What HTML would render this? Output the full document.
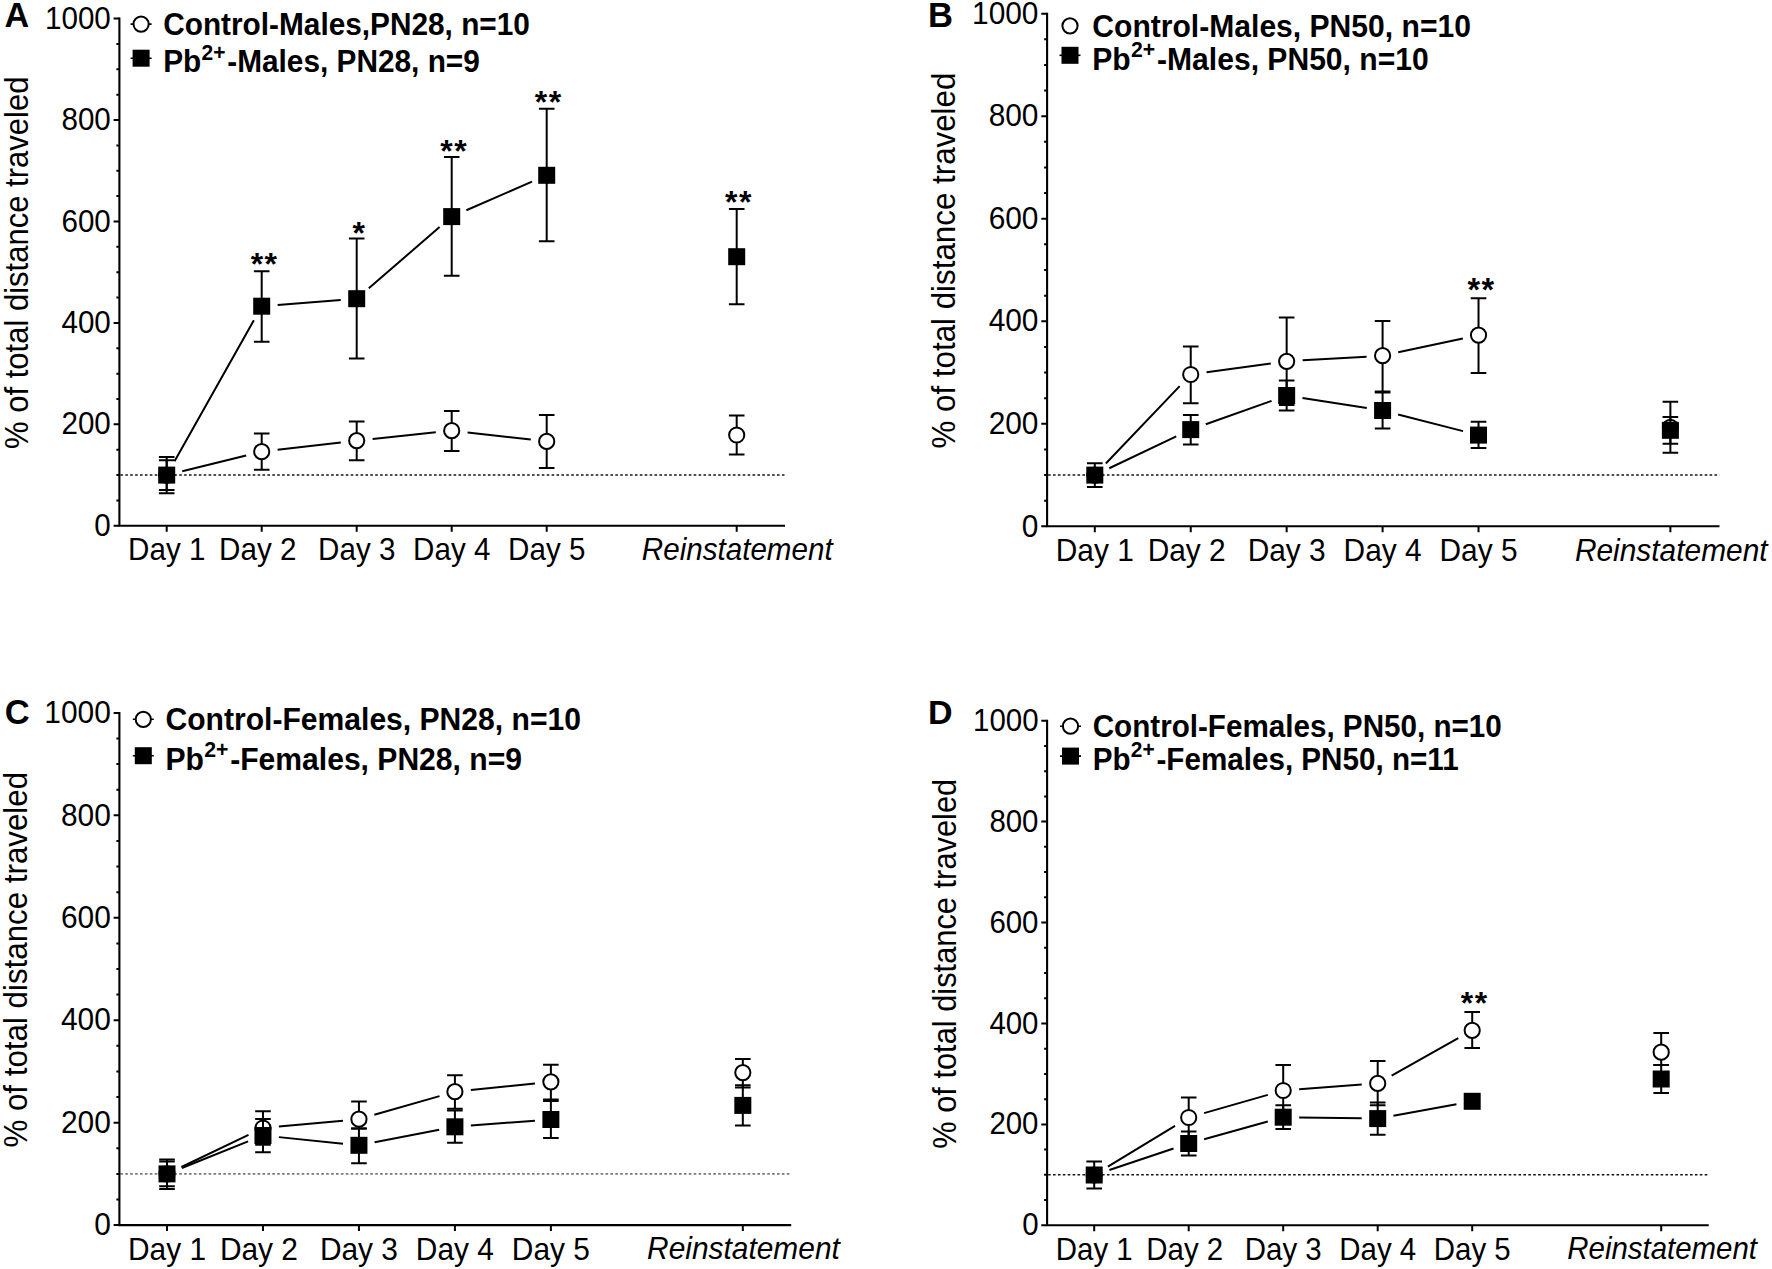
<!DOCTYPE html>
<html><head><meta charset="utf-8"><title>Figure</title>
<style>
html,body{margin:0;padding:0;background:#fff;}
svg{display:block;}
text{font-family:"Liberation Sans", Arial, Helvetica, sans-serif;fill:#000;}
</style></head>
<body>
<svg width="1772" height="1269" viewBox="0 0 1772 1269">
<rect width="1772" height="1269" fill="#fff"/>
<g><line x1="120.4" y1="475.08" x2="785" y2="475.08" stroke="#151515" stroke-width="1.5" stroke-dasharray="2.6 2.3"/>
<path d="M119.4 17.6V525.8H785" fill="none" stroke="#000" stroke-width="2.1"/>
<path d="M119.4 525.8h-5.8 M119.4 500.44h-3.0 M119.4 475.08h-3.0 M119.4 449.72h-3.0 M119.4 424.36h-5.8 M119.4 399h-3.0 M119.4 373.64h-3.0 M119.4 348.28h-3.0 M119.4 322.92h-5.8 M119.4 297.56h-3.0 M119.4 272.2h-3.0 M119.4 246.84h-3.0 M119.4 221.48h-5.8 M119.4 196.12h-3.0 M119.4 170.76h-3.0 M119.4 145.4h-3.0 M119.4 120.04h-5.8 M119.4 94.68h-3.0 M119.4 69.32h-3.0 M119.4 43.96h-3.0 M119.4 18.6h-5.8 M166.7 525.8v6 M261.7 525.8v6 M356.7 525.8v6 M451.7 525.8v6 M546.7 525.8v6 M736.7 525.8v6" fill="none" stroke="#000" stroke-width="2"/>
<text transform="translate(110.8 535.9) scale(1 1.04)" text-anchor="end" font-size="29.6">0</text>
<text transform="translate(110.8 434.46) scale(1 1.04)" text-anchor="end" font-size="29.6">200</text>
<text transform="translate(110.8 333.02) scale(1 1.04)" text-anchor="end" font-size="29.6">400</text>
<text transform="translate(110.8 231.58) scale(1 1.04)" text-anchor="end" font-size="29.6">600</text>
<text transform="translate(110.8 130.14) scale(1 1.04)" text-anchor="end" font-size="29.6">800</text>
<text transform="translate(110.8 28.7) scale(1 1.04)" text-anchor="end" font-size="29.6">1000</text>
<text transform="translate(166.7 560.2) scale(1 1.04)" text-anchor="middle" font-size="29.6">Day 1</text>
<text transform="translate(257.7 560.2) scale(1 1.04)" text-anchor="middle" font-size="29.6">Day 2</text>
<text transform="translate(356.7 560.2) scale(1 1.04)" text-anchor="middle" font-size="29.6">Day 3</text>
<text transform="translate(451.7 560.2) scale(1 1.04)" text-anchor="middle" font-size="29.6">Day 4</text>
<text transform="translate(546.7 560.2) scale(1 1.04)" text-anchor="middle" font-size="29.6">Day 5</text>
<text transform="translate(737.25 560) scale(1 1.04)" text-anchor="middle" font-size="29.6" font-style="italic">Reinstatement</text>
<text transform="translate(27.6 449) rotate(-90)" font-size="32.8" textLength="372.4" lengthAdjust="spacingAndGlyphs">% of total distance traveled</text>
<text transform="translate(4.5 26.8) scale(1 1.0)" font-size="34.2" font-weight="bold">A</text>
<path d="M130.6 24.1h21M130.6 58.2h21" stroke="#000" stroke-width="1.6"/>
<circle cx="141.1" cy="24.1" r="7.6" fill="#fff" stroke="#000" stroke-width="2.0"/>
<rect x="132.6" y="49.7" width="17" height="17" fill="#000"/>
<text transform="translate(163.2 35.2) scale(1 1.04)" font-size="29.8" font-weight="bold">Control-Males,PN28, n=10</text>
<text transform="translate(163.2 72.2) scale(1 1.04)" font-size="29.8" font-weight="bold">Pb<tspan font-size="21" dy="-12.2" dx="0.3">2+</tspan><tspan dy="12.2" dx="1.8">-Males, PN28, n=9</tspan></text>
<path d="M166.7 457V493.2M158.9 457h15.6M158.9 493.2h15.6 M261.7 433.6V469.8M253.9 433.6h15.6M253.9 469.8h15.6 M356.7 421.4V460.3M348.9 421.4h15.6M348.9 460.3h15.6 M451.7 410.9V451M443.9 410.9h15.6M443.9 451h15.6 M546.7 415V467.9M538.9 415h15.6M538.9 467.9h15.6 M736.7 415.5V454.5M728.9 415.5h15.6M728.9 454.5h15.6" fill="none" stroke="#000" stroke-width="2.0"/>
<path d="M182.24 471.27L246.16 455.53 M277.59 449.84L340.81 442.46 M372.61 438.94L435.79 432.36 M467.6 432.49L530.8 439.61" fill="none" stroke="#000" stroke-width="2.0"/>
<circle cx="166.7" cy="475.1" r="7.6" fill="#fff" stroke="#000" stroke-width="2.0"/>
<circle cx="261.7" cy="451.7" r="7.6" fill="#fff" stroke="#000" stroke-width="2.0"/>
<circle cx="356.7" cy="440.6" r="7.6" fill="#fff" stroke="#000" stroke-width="2.0"/>
<circle cx="451.7" cy="430.7" r="7.6" fill="#fff" stroke="#000" stroke-width="2.0"/>
<circle cx="546.7" cy="441.4" r="7.6" fill="#fff" stroke="#000" stroke-width="2.0"/>
<circle cx="736.7" cy="435" r="7.6" fill="#fff" stroke="#000" stroke-width="2.0"/>
<path d="M166.7 460.2V490M158.9 460.2h15.6M158.9 490h15.6 M261.7 271.3V341.7M253.9 271.3h15.6M253.9 341.7h15.6 M356.7 238.5V358.5M348.9 238.5h15.6M348.9 358.5h15.6 M451.7 157V275.7M443.9 157h15.6M443.9 275.7h15.6 M546.7 108.7V241.3M538.9 108.7h15.6M538.9 241.3h15.6 M736.7 208.9V304.3M728.9 208.9h15.6M728.9 304.3h15.6" fill="none" stroke="#000" stroke-width="2.0"/>
<path d="M174.54 461.15L253.86 320.15 M277.65 304.94L340.75 299.96 M368.81 288.24L439.59 227.06 M466.37 210.22L532.03 181.68" fill="none" stroke="#000" stroke-width="2.0"/>
<rect x="158.2" y="466.6" width="17.0" height="17.0" fill="#000"/>
<rect x="253.2" y="297.7" width="17.0" height="17.0" fill="#000"/>
<rect x="348.2" y="290.2" width="17.0" height="17.0" fill="#000"/>
<rect x="443.2" y="208.1" width="17.0" height="17.0" fill="#000"/>
<rect x="538.2" y="166.8" width="17.0" height="17.0" fill="#000"/>
<rect x="728.2" y="248.2" width="17.0" height="17.0" fill="#000"/>
<text x="264.6" y="275.4" text-anchor="middle" font-size="32" font-weight="bold" letter-spacing="1.5">**</text>
<text x="359.55" y="243.8" text-anchor="middle" font-size="32" font-weight="bold" letter-spacing="1.5">*</text>
<text x="454.25" y="161.7" text-anchor="middle" font-size="32" font-weight="bold" letter-spacing="1.5">**</text>
<text x="548.65" y="113.3" text-anchor="middle" font-size="32" font-weight="bold" letter-spacing="1.5">**</text>
<text x="739.05" y="212.8" text-anchor="middle" font-size="32" font-weight="bold" letter-spacing="1.5">**</text></g>
<g><line x1="1048.1" y1="475.04" x2="1719.5" y2="475.04" stroke="#151515" stroke-width="1.5" stroke-dasharray="2.6 2.3"/>
<path d="M1047.1 12.7V526.3H1719.5" fill="none" stroke="#000" stroke-width="2.1"/>
<path d="M1047.1 526.3h-5.8 M1047.1 500.67h-3.0 M1047.1 475.04h-3.0 M1047.1 449.41h-3.0 M1047.1 423.78h-5.8 M1047.1 398.15h-3.0 M1047.1 372.52h-3.0 M1047.1 346.89h-3.0 M1047.1 321.26h-5.8 M1047.1 295.63h-3.0 M1047.1 270h-3.0 M1047.1 244.37h-3.0 M1047.1 218.74h-5.8 M1047.1 193.11h-3.0 M1047.1 167.48h-3.0 M1047.1 141.85h-3.0 M1047.1 116.22h-5.8 M1047.1 90.59h-3.0 M1047.1 64.96h-3.0 M1047.1 39.33h-3.0 M1047.1 13.7h-5.8 M1094.8 526.3v6 M1190.73 526.3v6 M1286.66 526.3v6 M1382.59 526.3v6 M1478.52 526.3v6 M1670.38 526.3v6" fill="none" stroke="#000" stroke-width="2"/>
<text transform="translate(1038.5 536.5) scale(1 1.04)" text-anchor="end" font-size="29.89">0</text>
<text transform="translate(1038.5 433.98) scale(1 1.04)" text-anchor="end" font-size="29.89">200</text>
<text transform="translate(1038.5 331.46) scale(1 1.04)" text-anchor="end" font-size="29.89">400</text>
<text transform="translate(1038.5 228.94) scale(1 1.04)" text-anchor="end" font-size="29.89">600</text>
<text transform="translate(1038.5 126.42) scale(1 1.04)" text-anchor="end" font-size="29.89">800</text>
<text transform="translate(1038.5 23.9) scale(1 1.04)" text-anchor="end" font-size="29.89">1000</text>
<text transform="translate(1094.8 560.7) scale(1 1.04)" text-anchor="middle" font-size="29.89">Day 1</text>
<text transform="translate(1186.69 560.7) scale(1 1.04)" text-anchor="middle" font-size="29.89">Day 2</text>
<text transform="translate(1286.66 560.7) scale(1 1.04)" text-anchor="middle" font-size="29.89">Day 3</text>
<text transform="translate(1382.59 560.7) scale(1 1.04)" text-anchor="middle" font-size="29.89">Day 4</text>
<text transform="translate(1478.52 560.7) scale(1 1.04)" text-anchor="middle" font-size="29.89">Day 5</text>
<text transform="translate(1671.25 560.5) scale(1 1.04)" text-anchor="middle" font-size="29.89" font-style="italic">Reinstatement</text>
<text transform="translate(954.8 448.5) rotate(-90)" font-size="33.12" textLength="375.9" lengthAdjust="spacingAndGlyphs">% of total distance traveled</text>
<text transform="translate(928.1 26.8) scale(1 1.0)" font-size="34.54" font-weight="bold">B</text>
<path d="M1059.5 55.3h21" stroke="#000" stroke-width="1.6"/>
<circle cx="1070" cy="25.8" r="7.6" fill="#fff" stroke="#000" stroke-width="2.0"/>
<rect x="1061.5" y="46.8" width="17" height="17" fill="#000"/>
<text transform="translate(1092.3 36.6) scale(1 1.04)" font-size="30.09" font-weight="bold">Control-Males, PN50, n=10</text>
<text transform="translate(1092.3 69.5) scale(1 1.04)" font-size="30.09" font-weight="bold">Pb<tspan font-size="21.21" dy="-12.32" dx="0.3">2+</tspan><tspan dy="12.32" dx="1.8">-Males, PN50, n=10</tspan></text>
<path d="M1094.8 463.2V487M1087 463.2h15.6M1087 487h15.6 M1190.73 346.5V403.2M1182.93 346.5h15.6M1182.93 403.2h15.6 M1286.66 317.5V405.1M1278.86 317.5h15.6M1278.86 405.1h15.6 M1382.59 320.9V391.4M1374.79 320.9h15.6M1374.79 391.4h15.6 M1478.52 298.2V373.1M1470.72 298.2h15.6M1470.72 373.1h15.6 M1670.38 401.8V452.7M1662.58 401.8h15.6M1662.58 452.7h15.6" fill="none" stroke="#000" stroke-width="2.0"/>
<path d="M1105.84 463.52L1179.69 386.08 M1206.58 372.32L1270.81 363.48 M1302.63 360.37L1366.62 356.63 M1398.23 352.34L1462.88 338.46" fill="none" stroke="#000" stroke-width="2.0"/>
<circle cx="1094.8" cy="475.1" r="7.6" fill="#fff" stroke="#000" stroke-width="2.0"/>
<circle cx="1190.73" cy="374.5" r="7.6" fill="#fff" stroke="#000" stroke-width="2.0"/>
<circle cx="1286.66" cy="361.3" r="7.6" fill="#fff" stroke="#000" stroke-width="2.0"/>
<circle cx="1382.59" cy="355.7" r="7.6" fill="#fff" stroke="#000" stroke-width="2.0"/>
<circle cx="1478.52" cy="335.1" r="7.6" fill="#fff" stroke="#000" stroke-width="2.0"/>
<circle cx="1670.38" cy="427.3" r="7.6" fill="#fff" stroke="#000" stroke-width="2.0"/>
<path d="M1094.8 469V481M1087 469h15.6M1087 481h15.6 M1190.73 415V444.6M1182.93 415h15.6M1182.93 444.6h15.6 M1286.66 380.6V410.5M1278.86 380.6h15.6M1278.86 410.5h15.6 M1382.59 392.4V428.6M1374.79 392.4h15.6M1374.79 428.6h15.6 M1478.52 421.7V447.9M1470.72 421.7h15.6M1470.72 447.9h15.6 M1670.38 416.9V443.7M1662.58 416.9h15.6M1662.58 443.7h15.6" fill="none" stroke="#000" stroke-width="2.0"/>
<path d="M1109.26 468.24L1176.27 436.46 M1205.81 424.24L1271.58 400.86 M1302.47 397.97L1366.78 408.03 M1398.09 414.47L1463.02 431.13" fill="none" stroke="#000" stroke-width="2.0"/>
<rect x="1086.3" y="466.6" width="17.0" height="17.0" fill="#000"/>
<rect x="1182.23" y="421.1" width="17.0" height="17.0" fill="#000"/>
<rect x="1278.16" y="387" width="17.0" height="17.0" fill="#000"/>
<rect x="1374.09" y="402" width="17.0" height="17.0" fill="#000"/>
<rect x="1470.02" y="426.6" width="17.0" height="17.0" fill="#000"/>
<rect x="1661.88" y="421.8" width="17.0" height="17.0" fill="#000"/>
<text x="1481.55" y="301" text-anchor="middle" font-size="32.31" font-weight="bold" letter-spacing="1.5">**</text></g>
<g><line x1="120.4" y1="1173.88" x2="791.2" y2="1173.88" stroke="#7a7a7a" stroke-width="1.8" stroke-dasharray="2.6 2.3"/>
<path d="M119.4 711.9V1225.1H791.2" fill="none" stroke="#000" stroke-width="2.1"/>
<path d="M119.4 1225.1h-5.8 M119.4 1199.49h-3.0 M119.4 1173.88h-3.0 M119.4 1148.27h-3.0 M119.4 1122.66h-5.8 M119.4 1097.05h-3.0 M119.4 1071.44h-3.0 M119.4 1045.83h-3.0 M119.4 1020.22h-5.8 M119.4 994.61h-3.0 M119.4 969h-3.0 M119.4 943.39h-3.0 M119.4 917.78h-5.8 M119.4 892.17h-3.0 M119.4 866.56h-3.0 M119.4 840.95h-3.0 M119.4 815.34h-5.8 M119.4 789.73h-3.0 M119.4 764.12h-3.0 M119.4 738.51h-3.0 M119.4 712.9h-5.8 M167 1225.1v6 M262.97 1225.1v6 M358.94 1225.1v6 M454.91 1225.1v6 M550.88 1225.1v6 M742.82 1225.1v6" fill="none" stroke="#000" stroke-width="2"/>
<text transform="translate(110.8 1235.3) scale(1 1.04)" text-anchor="end" font-size="29.9">0</text>
<text transform="translate(110.8 1132.86) scale(1 1.04)" text-anchor="end" font-size="29.9">200</text>
<text transform="translate(110.8 1030.42) scale(1 1.04)" text-anchor="end" font-size="29.9">400</text>
<text transform="translate(110.8 927.98) scale(1 1.04)" text-anchor="end" font-size="29.9">600</text>
<text transform="translate(110.8 825.54) scale(1 1.04)" text-anchor="end" font-size="29.9">800</text>
<text transform="translate(110.8 723.1) scale(1 1.04)" text-anchor="end" font-size="29.9">1000</text>
<text transform="translate(167 1259.5) scale(1 1.04)" text-anchor="middle" font-size="29.9">Day 1</text>
<text transform="translate(258.93 1259.5) scale(1 1.04)" text-anchor="middle" font-size="29.9">Day 2</text>
<text transform="translate(358.94 1259.5) scale(1 1.04)" text-anchor="middle" font-size="29.9">Day 3</text>
<text transform="translate(454.91 1259.5) scale(1 1.04)" text-anchor="middle" font-size="29.9">Day 4</text>
<text transform="translate(550.88 1259.5) scale(1 1.04)" text-anchor="middle" font-size="29.9">Day 5</text>
<text transform="translate(743.45 1259.3) scale(1 1.04)" text-anchor="middle" font-size="29.9" font-style="italic">Reinstatement</text>
<text transform="translate(26.7 1147.6) rotate(-90)" font-size="33.13" textLength="375.7" lengthAdjust="spacingAndGlyphs">% of total distance traveled</text>
<text transform="translate(4.7 723.6) scale(1 1.0)" font-size="34.55" font-weight="bold">C</text>
<path d="M132.8 719.3h21M132.8 755.7h21" stroke="#000" stroke-width="1.6"/>
<circle cx="143.3" cy="719.3" r="7.6" fill="#fff" stroke="#000" stroke-width="2.0"/>
<rect x="134.8" y="747.2" width="17" height="17" fill="#000"/>
<text transform="translate(165.5 730.2) scale(1 1.04)" font-size="30.1" font-weight="bold">Control-Females, PN28, n=10</text>
<text transform="translate(165.5 769.5) scale(1 1.04)" font-size="30.1" font-weight="bold">Pb<tspan font-size="21.21" dy="-12.32" dx="0.3">2+</tspan><tspan dy="12.32" dx="1.8">-Females, PN28, n=9</tspan></text>
<path d="M167 1159.6V1188.9M159.2 1159.6h15.6M159.2 1188.9h15.6 M262.97 1111.3V1144.7M255.17 1111.3h15.6M255.17 1144.7h15.6 M358.94 1101.6V1128.5M351.14 1101.6h15.6M351.14 1128.5h15.6 M454.91 1075.2V1108.7M447.11 1075.2h15.6M447.11 1108.7h15.6 M550.88 1064.7V1099.4M543.08 1064.7h15.6M543.08 1099.4h15.6 M742.82 1059V1087.5M735.02 1059h15.6M735.02 1087.5h15.6" fill="none" stroke="#000" stroke-width="2.0"/>
<path d="M181.43 1167L248.54 1134.9 M278.9 1126.54L343.01 1120.66 M374.32 1114.79L439.53 1096.11 M470.83 1090.06L534.96 1083.44" fill="none" stroke="#000" stroke-width="2.0"/>
<circle cx="167" cy="1173.9" r="7.6" fill="#fff" stroke="#000" stroke-width="2.0"/>
<circle cx="262.97" cy="1128" r="7.6" fill="#fff" stroke="#000" stroke-width="2.0"/>
<circle cx="358.94" cy="1119.2" r="7.6" fill="#fff" stroke="#000" stroke-width="2.0"/>
<circle cx="454.91" cy="1091.7" r="7.6" fill="#fff" stroke="#000" stroke-width="2.0"/>
<circle cx="550.88" cy="1081.8" r="7.6" fill="#fff" stroke="#000" stroke-width="2.0"/>
<circle cx="742.82" cy="1072.6" r="7.6" fill="#fff" stroke="#000" stroke-width="2.0"/>
<path d="M167 1161.5V1186.3M159.2 1161.5h15.6M159.2 1186.3h15.6 M262.97 1118.9V1152.2M255.17 1118.9h15.6M255.17 1152.2h15.6 M358.94 1128.5V1163.3M351.14 1128.5h15.6M351.14 1163.3h15.6 M454.91 1110.6V1142.7M447.11 1110.6h15.6M447.11 1142.7h15.6 M550.88 1101V1138M543.08 1101h15.6M543.08 1138h15.6 M742.82 1085.2V1125.4M735.02 1085.2h15.6M735.02 1125.4h15.6" fill="none" stroke="#000" stroke-width="2.0"/>
<path d="M181.85 1167.96L248.12 1141.44 M278.89 1137.13L343.02 1143.67 M374.65 1142.27L439.2 1129.83 M470.86 1125.59L534.93 1120.71" fill="none" stroke="#000" stroke-width="2.0"/>
<rect x="158.5" y="1165.4" width="17.0" height="17.0" fill="#000"/>
<rect x="254.47" y="1127" width="17.0" height="17.0" fill="#000"/>
<rect x="350.44" y="1136.8" width="17.0" height="17.0" fill="#000"/>
<rect x="446.41" y="1118.3" width="17.0" height="17.0" fill="#000"/>
<rect x="542.38" y="1111" width="17.0" height="17.0" fill="#000"/>
<rect x="734.32" y="1096.9" width="17.0" height="17.0" fill="#000"/></g>
<g><line x1="1048.1" y1="1174.84" x2="1708.7" y2="1174.84" stroke="#151515" stroke-width="1.5" stroke-dasharray="2.6 2.3"/>
<path d="M1047.1 719.7V1225.3H1708.7" fill="none" stroke="#000" stroke-width="2.1"/>
<path d="M1047.1 1225.3h-5.8 M1047.1 1200.07h-3.0 M1047.1 1174.84h-3.0 M1047.1 1149.61h-3.0 M1047.1 1124.38h-5.8 M1047.1 1099.15h-3.0 M1047.1 1073.92h-3.0 M1047.1 1048.69h-3.0 M1047.1 1023.46h-5.8 M1047.1 998.23h-3.0 M1047.1 973h-3.0 M1047.1 947.77h-3.0 M1047.1 922.54h-5.8 M1047.1 897.31h-3.0 M1047.1 872.08h-3.0 M1047.1 846.85h-3.0 M1047.1 821.62h-5.8 M1047.1 796.39h-3.0 M1047.1 771.16h-3.0 M1047.1 745.93h-3.0 M1047.1 720.7h-5.8 M1094.2 1225.3v6 M1188.7 1225.3v6 M1283.2 1225.3v6 M1377.7 1225.3v6 M1472.2 1225.3v6 M1661.2 1225.3v6" fill="none" stroke="#000" stroke-width="2"/>
<text transform="translate(1038.5 1235.35) scale(1 1.04)" text-anchor="end" font-size="29.44">0</text>
<text transform="translate(1038.5 1134.43) scale(1 1.04)" text-anchor="end" font-size="29.44">200</text>
<text transform="translate(1038.5 1033.51) scale(1 1.04)" text-anchor="end" font-size="29.44">400</text>
<text transform="translate(1038.5 932.59) scale(1 1.04)" text-anchor="end" font-size="29.44">600</text>
<text transform="translate(1038.5 831.67) scale(1 1.04)" text-anchor="end" font-size="29.44">800</text>
<text transform="translate(1038.5 730.75) scale(1 1.04)" text-anchor="end" font-size="29.44">1000</text>
<text transform="translate(1094.2 1259.5) scale(1 1.04)" text-anchor="middle" font-size="29.44">Day 1</text>
<text transform="translate(1184.72 1259.5) scale(1 1.04)" text-anchor="middle" font-size="29.44">Day 2</text>
<text transform="translate(1283.2 1259.5) scale(1 1.04)" text-anchor="middle" font-size="29.44">Day 3</text>
<text transform="translate(1377.7 1259.5) scale(1 1.04)" text-anchor="middle" font-size="29.44">Day 4</text>
<text transform="translate(1472.2 1259.5) scale(1 1.04)" text-anchor="middle" font-size="29.44">Day 5</text>
<text transform="translate(1662.15 1259) scale(1 1.04)" text-anchor="middle" font-size="29.44" font-style="italic">Reinstatement</text>
<text transform="translate(955.9 1148.8) rotate(-90)" font-size="32.63" textLength="370" lengthAdjust="spacingAndGlyphs">% of total distance traveled</text>
<text transform="translate(927.9 723.9) scale(1 1.0)" font-size="34.02" font-weight="bold">D</text>
<path d="M1060 726.2h21M1060 756.1h21" stroke="#000" stroke-width="1.6"/>
<circle cx="1070.5" cy="726.2" r="7.6" fill="#fff" stroke="#000" stroke-width="2.0"/>
<rect x="1062" y="747.6" width="17" height="17" fill="#000"/>
<text transform="translate(1092.7 736.6) scale(1 1.04)" font-size="29.64" font-weight="bold">Control-Females, PN50, n=10</text>
<text transform="translate(1092.7 770) scale(1 1.04)" font-size="29.64" font-weight="bold">Pb<tspan font-size="20.89" dy="-12.14" dx="0.3">2+</tspan><tspan dy="12.14" dx="1.8">-Females, PN50, n=11</tspan></text>
<path d="M1094.2 1161.5V1188.6M1086.4 1161.5h15.6M1086.4 1188.6h15.6 M1188.7 1097.5V1137.5M1180.9 1097.5h15.6M1180.9 1137.5h15.6 M1283.2 1065.1V1115.9M1275.4 1065.1h15.6M1275.4 1115.9h15.6 M1377.7 1061V1105.2M1369.9 1061h15.6M1369.9 1105.2h15.6 M1472.2 1012.1V1048M1464.4 1012.1h15.6M1464.4 1048h15.6 M1661.2 1032.9V1064.9M1653.4 1032.9h15.6M1653.4 1064.9h15.6" fill="none" stroke="#000" stroke-width="2.0"/>
<path d="M1107.87 1166.68L1175.03 1125.82 M1204.08 1113.1L1267.82 1094.9 M1299.16 1089.3L1361.74 1084.6 M1391.65 1075.56L1458.25 1038.14" fill="none" stroke="#000" stroke-width="2.0"/>
<circle cx="1094.2" cy="1175" r="7.6" fill="#fff" stroke="#000" stroke-width="2.0"/>
<circle cx="1188.7" cy="1117.5" r="7.6" fill="#fff" stroke="#000" stroke-width="2.0"/>
<circle cx="1283.2" cy="1090.5" r="7.6" fill="#fff" stroke="#000" stroke-width="2.0"/>
<circle cx="1377.7" cy="1083.4" r="7.6" fill="#fff" stroke="#000" stroke-width="2.0"/>
<circle cx="1472.2" cy="1030.3" r="7.6" fill="#fff" stroke="#000" stroke-width="2.0"/>
<circle cx="1661.2" cy="1052.2" r="7.6" fill="#fff" stroke="#000" stroke-width="2.0"/>
<path d="M1094.2 1168.5V1181.5M1086.4 1168.5h15.6M1086.4 1181.5h15.6 M1188.7 1131.6V1155.4M1180.9 1131.6h15.6M1180.9 1155.4h15.6 M1283.2 1105.3V1129.1M1275.4 1105.3h15.6M1275.4 1129.1h15.6 M1377.7 1102.6V1134.8M1369.9 1102.6h15.6M1369.9 1134.8h15.6 M1661.2 1065.1V1092.9M1653.4 1065.1h15.6M1653.4 1092.9h15.6" fill="none" stroke="#000" stroke-width="2.0"/>
<path d="M1109.38 1169.94L1173.52 1148.56 M1204.11 1139.21L1267.79 1121.49 M1299.2 1117.44L1361.7 1118.36 M1393.44 1115.72L1456.46 1104.18" fill="none" stroke="#000" stroke-width="2.0"/>
<rect x="1085.7" y="1166.5" width="17.0" height="17.0" fill="#000"/>
<rect x="1180.2" y="1135" width="17.0" height="17.0" fill="#000"/>
<rect x="1274.7" y="1108.7" width="17.0" height="17.0" fill="#000"/>
<rect x="1369.2" y="1110.1" width="17.0" height="17.0" fill="#000"/>
<rect x="1463.7" y="1092.8" width="17.0" height="17.0" fill="#000"/>
<rect x="1652.7" y="1070.5" width="17.0" height="17.0" fill="#000"/>
<text x="1474.65" y="1014.39" text-anchor="middle" font-size="31.83" font-weight="bold" letter-spacing="1.5">**</text></g>
</svg>
</body></html>
